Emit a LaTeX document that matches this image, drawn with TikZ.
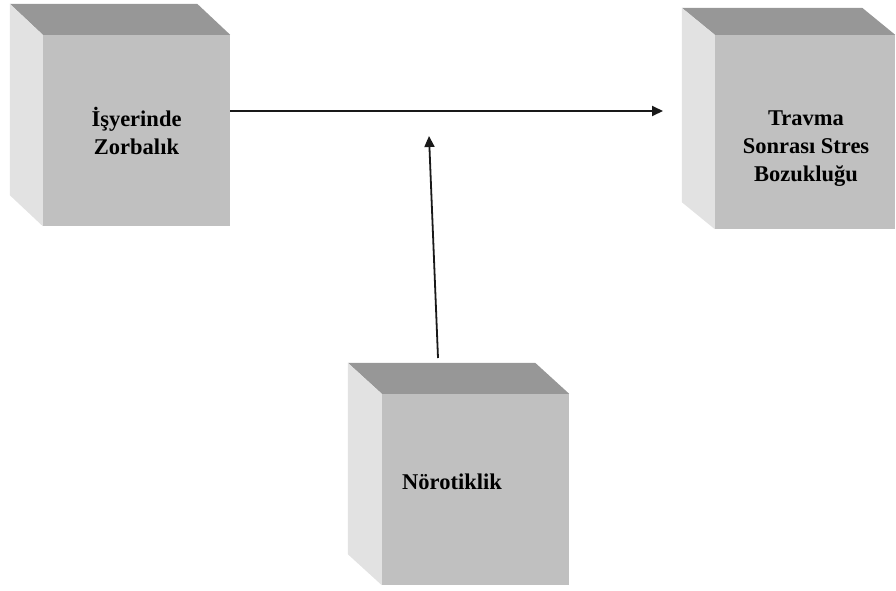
\documentclass[tikz,border=0pt]{standalone}
\usepackage{fontspec}
\setmainfont{Liberation Serif}
\usetikzlibrary{arrows.meta}

\definecolor{frontgray}{HTML}{C0C0C0}
\definecolor{topgray}{HTML}{979797}
\definecolor{sidegray}{HTML}{E2E2E2}

\tikzset{
  frontface/.style={fill=frontgray, draw=none, inner sep=0pt},
  topface/.style={fill=topgray, draw=none},
  sideface/.style={fill=sidegray, draw=none},
  label/.style={font=\fontsize{22.5}{28}\selectfont\bfseries, align=center, text=black, inner sep=0pt},
  conn/.style={draw=black!90, line width=1.8pt, -{Triangle[length=11pt,width=10pt]}},
}

% three-faced block: name, centre x, centre y, width, height, depth offset
\newcommand\blockcube[6]{%
  \node[frontface, minimum width=#4pt, minimum height=#5pt] (#1) at (#2,#3) {};
  \fill[topface] (#1.north west) -- (#1.north east)
    -- ([shift={#6}]#1.north east) -- ([shift={#6}]#1.north west) -- cycle;
  \fill[sideface] (#1.north west) -- ([shift={#6}]#1.north west)
    -- ([shift={#6}]#1.south west) -- (#1.south west) -- cycle;
}

\begin{document}
\begin{tikzpicture}[x=1pt, y=-1pt]
  \useasboundingbox (0,0) rectangle (896,590);

  \blockcube{bully}{136.5}{130.5}{187}{191}{(-33,-31)}
  \blockcube{ptsd}{805}{132}{180}{194}{(-33,-27)}
  \blockcube{neuro}{475.5}{489.5}{187}{191}{(-34,-31)}

  \node[label] (bullytext) at (bully) {İşyerinde\\Zorbalık};
  \node[label] (ptsdtext) at (806,149) {Travma\\Sonrası Stres\\Bozukluğu};
  \node[label] (neurotext) at (452,482) {Nörotiklik};

  \coordinate (hend) at (663,111);
  \coordinate (vstart) at (438,358);
  \coordinate (vend) at (429,136);

  \draw[conn] (bully.east |- hend) -- (hend);
  \draw[conn] (vstart) -- (vend);
\end{tikzpicture}
\end{document}
